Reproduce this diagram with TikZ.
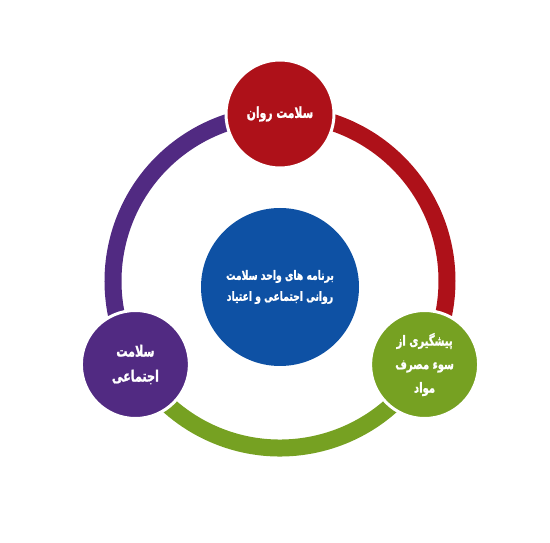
\documentclass[tikz,border=0pt]{standalone}
\usepackage{fontspec}
\usepackage{color}
\usepackage{tikz}
\usetikzlibrary{shapes}
\TeXXeTstate=1
\newfontfamily\farsi[Script=Arabic, FakeStretch=0.72, FakeBold=1.2]{DejaVu Sans}
\newcommand{\fa}[1]{{\farsi\bfseries\beginR #1\endR}}
\definecolor{mentalred}{RGB}{174,17,25}
\definecolor{socialpurple}{RGB}{81,42,130}
\definecolor{preventgreen}{RGB}{118,161,34}
\definecolor{hubblue}{RGB}{14,81,164}
\tikzstyle{topic} = [circle, minimum size=108pt, inner sep=0pt, align=center, text=white, draw=white, line width=3pt]
\tikzstyle{hub} = [circle, minimum size=158pt, inner sep=0pt, align=center, text=white, fill=hubblue]
\tikzstyle{band} = [line width=17pt]

\begin{document}
\begin{tikzpicture}[x=1pt, y=1pt]
\useasboundingbox (0,0) rectangle (550,542);
\coordinate (ringc) at (280,261);
\coordinate (psychc) at (280,428);
\coordinate (socialc) at (135.4,177.5);
\coordinate (preventc) at (424.6,177.5);

\draw [band, mentalred] (psychc) arc [start angle=90, end angle=-30, radius=167];
\draw [band, preventgreen] (preventc) arc [start angle=-30, end angle=-150, radius=167];
\draw [band, socialpurple] (socialc) arc [start angle=210, end angle=90, radius=167];

\node (hub) [hub, font=\fontsize{12.8}{21}\selectfont] at (280,255) {\fa{برنامه های واحد سلامت}\\\fa{روانی اجتماعی و اعتیاد}};
\node (psych) [topic, fill=mentalred, font=\fontsize{15}{20}\selectfont] at (psychc) {\fa{سلامت روان}};
\node (social) [topic, fill=socialpurple, font=\fontsize{15.5}{25}\selectfont] at (socialc) {\fa{سلامت}\\\fa{اجتماعی}};
\node (prevent) [topic, fill=preventgreen, font=\fontsize{13.9}{23.5}\selectfont] at (preventc) {\fa{پیشگیری از}\\\fa{سوء مصرف}\\\fa{مواد}};

\end{tikzpicture}
\end{document}
